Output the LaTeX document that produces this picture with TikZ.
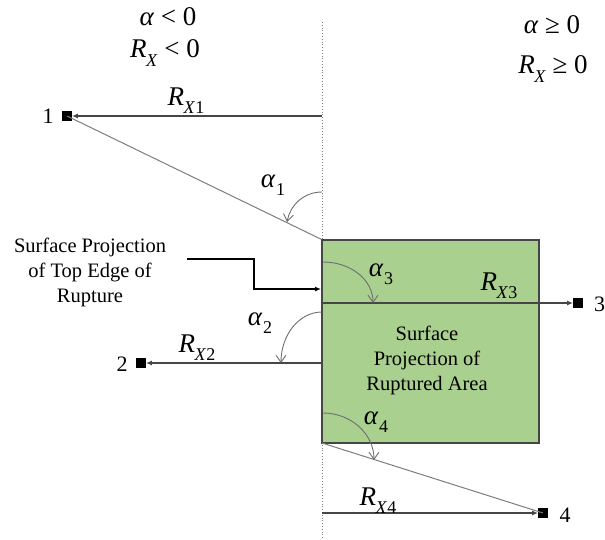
\documentclass[tikz,border=0pt]{standalone}
\usepackage{fontspec}
\setmainfont{Liberation Serif}
\usetikzlibrary{arrows.meta}
\definecolor{ruptgreen}{RGB}{169,208,142}
\definecolor{edgegray}{RGB}{70,70,70}
\definecolor{diaggray}{RGB}{125,125,125}
\definecolor{arcgray}{RGB}{110,110,110}
\newcommand{\mysub}[1]{\raisebox{-0.3em}{\fontsize{18}{18}\selectfont #1}}
\newcommand{\myRX}[1]{\textit{R}\kern-0.5pt\mysub{\textit{X}#1}}
\newcommand{\myal}[1]{\textit{α}\kern0.5pt\mysub{#1}}
\begin{document}
\begin{tikzpicture}[x=1pt,y=-1pt,
  mathlbl/.style={inner sep=0pt,font=\fontsize{27}{27}\selectfont},
  txt/.style={inner sep=0pt,align=center,font=\fontsize{20.5}{25}\selectfont},
  numlbl/.style={inner sep=0pt,font=\fontsize{22}{22}\selectfont},
  ptsq/.style={fill=black,draw=none,minimum size=9.5pt,inner sep=0pt},
  mainarr/.style={draw=edgegray,line width=1.4pt,-{Latex[length=6pt,width=5pt]}},
  diagline/.style={draw=diaggray,line width=1pt},
  anglearc/.style={draw=arcgray,line width=0.9pt,-{Straight Barb[length=7pt,width=10pt]}},
  refline/.style={draw=diaggray,line width=0.8pt,dotted}]
\useasboundingbox (0,0) rectangle (605,539);
% dotted reference line
\coordinate (dtop) at (322,22);
\coordinate (dbot) at (322,539);
\draw[refline] (dtop) -- (dbot);
% rupture area
\node[draw=edgegray,line width=1.4pt,fill=ruptgreen,minimum width=217pt,minimum height=203pt,inner sep=0pt] (rupt) at (430.5,341.5) {};
\node[txt] (rlab) at (427,360) {Surface\\Projection of\\Ruptured Area};
% points
\node[ptsq] (p1) at (67,116) {};
\node[ptsq] (p2) at (141,363) {};
\node[ptsq] (p3) at (578,303) {};
\node[ptsq] (p4) at (543,513) {};
\node[numlbl] (n1) at (48,116) {1};
\node[numlbl] (n2) at (122,364) {2};
\node[numlbl,anchor=west] (n3) at (594,304) {3};
\node[numlbl] (n4) at (565,515) {4};
% origins of distance arrows
\coordinate (o1) at (322,116);
\coordinate (o2) at (322,363);
\coordinate (o3) at (322,303);
\coordinate (o4) at (322,513);
\coordinate (c4) at (322,443);
% diagonals
\draw[diagline] (rupt.north west) -- (p1.center);
\draw[diagline] (c4) -- (p4.center);
% distance arrows
\draw[mainarr] (o1) -- (p1.east);
\draw[mainarr] (o2) -- (p2.east);
\draw[mainarr] (o3) -- (p3.west);
\draw[mainarr] (o4) -- (p4.west);
% top edge annotation
\node[txt] (tlab) at (90,272) {Surface Projection\\of Top Edge of\\Rupture};
\coordinate (t0) at (187,259);
\coordinate (t1) at (254,259);
\coordinate (t2) at (254,289);
\coordinate (t3) at (321,289);
\draw[line width=1.3pt,-{Latex[length=6pt,width=5pt]}] (t0) -- (t1) -- (t2) -- (t3);
% angle arcs
\coordinate (a1s) at (322,192);
\coordinate (a1e) at (287,222);
\draw[anglearc] (a1s) .. controls (303,192) and (290,206) .. (a1e);
\coordinate (a2s) at (322,312);
\coordinate (a2e) at (281,363);
\draw[anglearc] (a2s) .. controls (299,312) and (281,335) .. (a2e);
\coordinate (a3s) at (323,262);
\coordinate (a3e) at (373,303);
\draw[anglearc] (a3s) .. controls (351,262) and (373,280) .. (a3e);
\coordinate (a4s) at (323,413);
\coordinate (a4e) at (374,460);
\draw[anglearc] (a4s) .. controls (351,413) and (374,434) .. (a4e);
% labels
\node[mathlbl] (l1) at (186,101) {\myRX{1}};
\node[mathlbl] (l2) at (197,348) {\myRX{2}};
\node[mathlbl] (l3) at (499,286) {\myRX{3}};
\node[mathlbl] (l4) at (378,501) {\myRX{4}};
\node[mathlbl] (al1) at (273,185) {\myal{1}};
\node[mathlbl] (al2) at (260,323) {\myal{2}};
\node[mathlbl] (al3) at (381,274) {\myal{3}};
\node[mathlbl] (al4) at (376,422) {\myal{4}};
% region conditions
\node[mathlbl] (cA) at (168,17) {\textit{α} < 0};
\node[mathlbl] (cB) at (165,53) {\myRX{} < 0};
\node[mathlbl] (cC) at (552,25) {\textit{α} ≥ 0};
\node[mathlbl] (cD) at (553,69) {\myRX{} ≥ 0};
\end{tikzpicture}
\end{document}
